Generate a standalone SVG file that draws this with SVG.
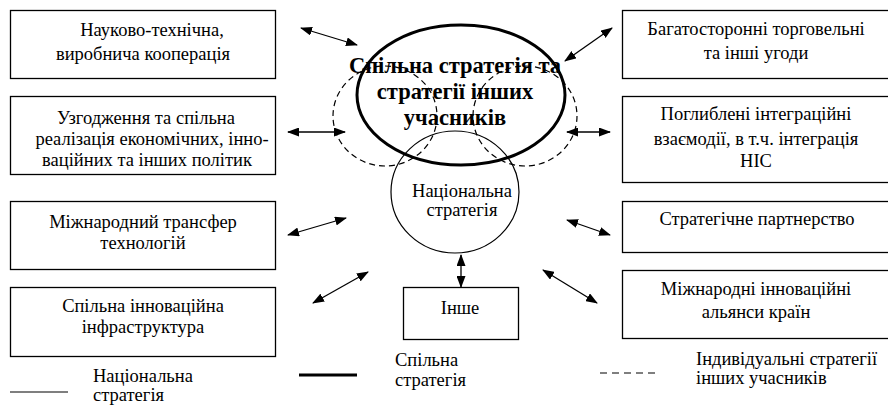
<svg xmlns="http://www.w3.org/2000/svg" width="888" height="409" viewBox="0 0 888 409">
  <defs>
    <marker id="head" viewBox="0 0 12 9" refX="11" refY="4.5" markerWidth="12" markerHeight="9" markerUnits="userSpaceOnUse" orient="auto-start-reverse">
      <path d="M0,0 L12,4.5 L0,9 Z" fill="#000"/>
    </marker>
    <style>
      .box { fill: #fff; stroke: #000; stroke-width: 1.3; }
      .t { font-size: 18.5px; fill: #000; text-anchor: middle; }
      .ts { font-size: 18.5px; fill: #000; }
      .title { font-size: 22.5px; font-weight: bold; fill: #000; text-anchor: middle; }
      .arrow { stroke: #000; stroke-width: 1.3; fill: none; marker-start: url(#head); marker-end: url(#head); }
      .dash { fill: none; stroke: #000; stroke-width: 1.2; stroke-dasharray: 6 4; }
    </style>
  </defs>

  <g font-family="'Liberation Serif', 'Times New Roman', serif">
  <!-- left column -->
  <g id="node-coop">
    <rect class="box" x="10.5" y="10.5" width="265" height="68"/>
    <text class="t" x="152" y="36">Науково-технічна,</text>
    <text class="t" x="143" y="60">виробнича кооперація</text>
  </g>
  <g id="node-policy">
    <rect class="box" x="10.5" y="96.5" width="265" height="78"/>
    <text class="t" x="146" y="124">Узгодження та спільна</text>
    <text class="t" x="152" y="145">реалізація економічних, інно-</text>
    <text class="t" x="147" y="166">ваційних та інших політик</text>
  </g>
  <g id="node-transfer">
    <rect class="box" x="10.5" y="201.5" width="265" height="68"/>
    <text class="t" x="143" y="228">Міжнародний трансфер</text>
    <text class="t" x="143" y="249">технологій</text>
  </g>
  <g id="node-infra">
    <rect class="box" x="10.5" y="287.5" width="265" height="69"/>
    <text class="t" x="143" y="312">Спільна інноваційна</text>
    <text class="t" x="143" y="333">інфраструктура</text>
  </g>

  <!-- right column -->
  <g id="node-trade">
    <rect class="box" x="622.5" y="10.5" width="280" height="68"/>
    <text class="t" x="756" y="35">Багатосторонні торговельні</text>
    <text class="t" x="756" y="59">та інші угоди</text>
  </g>
  <g id="node-integration">
    <rect class="box" x="622.5" y="96.5" width="280" height="86"/>
    <text class="t" x="756" y="120">Поглиблені інтеграційні</text>
    <text class="t" x="756" y="145">взаємодії, в т.ч. інтеграція</text>
    <text class="t" x="756" y="167">НІС</text>
  </g>
  <g id="node-partnership">
    <rect class="box" x="622.5" y="201.5" width="280" height="51"/>
    <text class="t" x="757" y="225">Стратегічне партнерство</text>
  </g>
  <g id="node-alliances">
    <rect class="box" x="622.5" y="270.5" width="280" height="68"/>
    <text class="t" x="756" y="295">Міжнародні інноваційні</text>
    <text class="t" x="756" y="318">альянси країн</text>
  </g>

  <!-- other -->
  <g id="node-other">
    <rect class="box" x="403.5" y="287.5" width="115" height="52"/>
    <text class="t" x="460" y="314">Інше</text>
  </g>

  <!-- strategies: labels first, outlines drawn over them -->
  <g id="node-joint">
    <text class="title" x="455" y="73">Спільна стратегія та</text>
    <text class="title" x="455" y="99">стратегії інших</text>
    <text class="title" x="455" y="125">учасників</text>
    <ellipse cx="461" cy="95" rx="104" ry="70" fill="none" stroke="#000" stroke-width="3"/>
  </g>
  <g id="node-individual">
    <ellipse class="dash" cx="385" cy="116" rx="52" ry="50"/>
    <ellipse class="dash" cx="525" cy="116" rx="52" ry="50"/>
  </g>
  <g id="node-national">
    <ellipse cx="455" cy="192" rx="64" ry="61" fill="none" stroke="#000" stroke-width="1.2"/>
    <text class="t" x="462" y="197">Національна</text>
    <text class="t" x="462" y="216">стратегія</text>
  </g>

  <!-- connectors -->
  <g id="connectors">
    <line class="arrow" x1="301" y1="28" x2="357" y2="45"/>
    <line class="arrow" x1="288" y1="132" x2="345" y2="132"/>
    <line class="arrow" x1="288" y1="235" x2="346" y2="218"/>
    <line class="arrow" x1="313" y1="303" x2="368" y2="272"/>
    <line class="arrow" x1="565" y1="61" x2="612" y2="28"/>
    <line class="arrow" x1="567" y1="132" x2="610" y2="132"/>
    <line class="arrow" x1="567" y1="220" x2="610" y2="235"/>
    <line class="arrow" x1="543" y1="270" x2="597" y2="303"/>
    <line class="arrow" x1="461" y1="255" x2="461" y2="287"/>
  </g>

  <!-- legend -->
  <g id="legend">
    <line x1="10" y1="392" x2="68" y2="392" stroke="#000" stroke-width="1.2"/>
    <text class="ts" x="93" y="382">Національна</text>
    <text class="ts" x="93" y="401">стратегія</text>
    <line x1="299" y1="375" x2="357" y2="375" stroke="#000" stroke-width="3"/>
    <text class="ts" x="395" y="366">Спільна</text>
    <text class="ts" x="395" y="386">стратегія</text>
    <line x1="600" y1="373" x2="658" y2="373" stroke="#000" stroke-width="1.2" stroke-dasharray="7 5"/>
    <text class="ts" x="696" y="365">Індивідуальні стратегії</text>
    <text class="ts" x="696" y="384">інших учасників</text>
  </g>
  </g>
</svg>
